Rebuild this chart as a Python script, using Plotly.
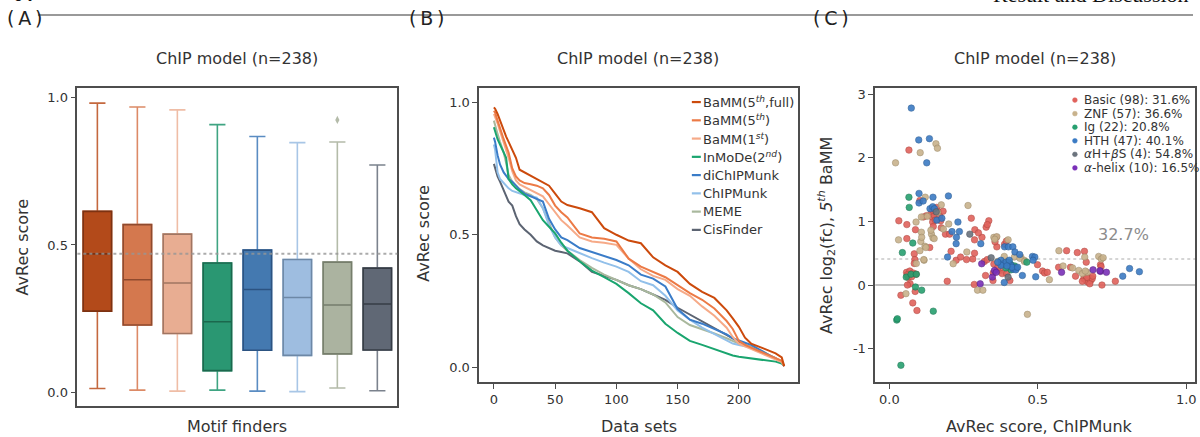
import plotly.graph_objects as go
import math

W, H = 1200, 437

# ---------------- Panel A: box statistics (AvRec score per motif finder) -------------
finders = ["BaMM(5th,full)", "BaMM(5th)", "BaMM(1st)", "InMoDe(2nd)",
           "diChIPMunk", "ChIPMunk", "MEME", "CisFinder"]
finder_labels = ["BaMM(5<sup><i>th</i></sup>,full)", "BaMM(5<sup><i>th</i></sup>)",
                 "BaMM(1<sup><i>st</i></sup>)", "InMoDe(2<sup><i>nd</i></sup>)",
                 "diChIPMunk", "ChIPMunk", "MEME", "CisFinder"]
box_q1 = [0.276, 0.229, 0.200, 0.074, 0.143, 0.126, 0.131, 0.144]
box_median = [0.470, 0.382, 0.371, 0.240, 0.349, 0.322, 0.2965, 0.300]
box_q3 = [0.614, 0.569, 0.537, 0.439, 0.4825, 0.451, 0.442, 0.4216]
box_low = [0.0135, 0.008, 0.0045, 0.008, 0.0045, 0.003, 0.015, 0.006]
box_high = [0.981, 0.968, 0.958, 0.908, 0.868, 0.847, 0.849, 0.771]
outlier_finder = [6]
outlier_value = [0.924]

# ---------------- Panel B: sorted AvRec scores per data set -------------
data_idx = [0, 1, 3, 5, 8, 10, 12, 15, 18, 21, 25, 30, 35, 40, 45, 50, 55, 60, 70, 80,
            90, 100, 110, 120, 130, 140, 150, 160, 170, 180, 190, 195, 200, 205, 210,
            220, 230, 235, 237]
bamm5_full = [0.98, 0.975, 0.955, 0.93, 0.89, 0.87, 0.85, 0.82, 0.79, 0.745, 0.735, 0.725,
              0.71, 0.70, 0.685, 0.655, 0.625, 0.612, 0.60, 0.585, 0.525, 0.50, 0.478,
              0.468, 0.415, 0.385, 0.36, 0.315, 0.285, 0.262, 0.215, 0.185, 0.153, 0.112,
              0.09, 0.072, 0.053, 0.038, 0.005]
bamm5 = [0.967, 0.96, 0.93, 0.90, 0.86, 0.835, 0.81, 0.75, 0.72, 0.705, 0.695, 0.69, 0.685,
         0.675, 0.65, 0.61, 0.585, 0.565, 0.505, 0.49, 0.485, 0.475, 0.41, 0.38, 0.36, 0.34,
         0.31, 0.28, 0.255, 0.222, 0.175, 0.145, 0.10, 0.085, 0.075, 0.055, 0.035, 0.025, 0.005]
bamm1 = [0.955, 0.945, 0.92, 0.89, 0.85, 0.82, 0.79, 0.74, 0.705, 0.69, 0.68, 0.67, 0.655,
         0.645, 0.615, 0.585, 0.555, 0.535, 0.49, 0.475, 0.47, 0.462, 0.41, 0.37, 0.345,
         0.33, 0.295, 0.27, 0.23, 0.195, 0.15, 0.115, 0.09, 0.08, 0.07, 0.05, 0.03, 0.02, 0.005]
inmode = [0.905, 0.89, 0.86, 0.84, 0.81, 0.79, 0.71, 0.69, 0.675, 0.665, 0.65, 0.63, 0.59,
          0.555, 0.53, 0.505, 0.47, 0.44, 0.40, 0.365, 0.34, 0.315, 0.28, 0.242, 0.215,
          0.165, 0.13, 0.10, 0.085, 0.068, 0.052, 0.045, 0.04, 0.037, 0.035, 0.03, 0.022,
          0.015, 0.008]
dichipmunk = [0.866, 0.85, 0.80, 0.765, 0.735, 0.72, 0.71, 0.70, 0.685, 0.67, 0.655, 0.645,
              0.635, 0.625, 0.56, 0.52, 0.49, 0.48, 0.45, 0.435, 0.42, 0.405, 0.385, 0.35,
              0.335, 0.305, 0.22, 0.18, 0.165, 0.145, 0.125, 0.11, 0.10, 0.093, 0.085, 0.06,
              0.035, 0.02, 0.005]
chipmunk = [0.84, 0.82, 0.735, 0.71, 0.695, 0.685, 0.675, 0.665, 0.66, 0.655, 0.65, 0.645,
            0.64, 0.60, 0.535, 0.49, 0.46, 0.45, 0.43, 0.412, 0.395, 0.38, 0.36, 0.325, 0.31,
            0.27, 0.215, 0.18, 0.15, 0.125, 0.10, 0.09, 0.085, 0.08, 0.075, 0.055, 0.035,
            0.02, 0.005]
meme = [0.93, 0.91, 0.88, 0.85, 0.81, 0.77, 0.725, 0.70, 0.685, 0.672, 0.66, 0.65, 0.635,
        0.60, 0.545, 0.49, 0.46, 0.44, 0.405, 0.375, 0.35, 0.33, 0.31, 0.295, 0.275, 0.245,
        0.19, 0.16, 0.145, 0.128, 0.11, 0.10, 0.09, 0.085, 0.078, 0.06, 0.035, 0.02, 0.005]
cisfinder = [0.767, 0.75, 0.72, 0.70, 0.67, 0.645, 0.625, 0.61, 0.57, 0.54, 0.52, 0.50,
             0.475, 0.46, 0.45, 0.44, 0.435, 0.43, 0.40, 0.36, 0.345, 0.33, 0.31, 0.295,
             0.275, 0.255, 0.225, 0.20, 0.175, 0.148, 0.125, 0.11, 0.095, 0.085, 0.075,
             0.055, 0.035, 0.02, 0.005]
curves = [bamm5_full, bamm5, bamm1, inmode, dichipmunk, chipmunk, meme, cisfinder]

# ---------------- Panel C: ChIPMunk AvRec vs log2 fold change of 5th-order BaMM ----
families = ["Basic", "ZNF", "Ig", "HTH", "αH+βS", "α-helix"]
family_labels = ["Basic (98): 31.6%", "ZNF (57): 36.6%", "Ig (22): 20.8%",
                 "HTH (47): 40.1%", "<i>α</i>H+<i>β</i>S (4): 54.8%",
                 "<i>α</i>-helix (10): 16.5%"]
basic_x = [0.066, 0.032, 0.059, 0.059, 0.088, 0.084, 0.086, 0.084, 0.058, 0.069, 0.080, 0.064,
           0.075, 0.070, 0.061, 0.087, 0.039, 0.079, 0.093, 0.103, 0.125, 0.136, 0.142, 0.144,
           0.146, 0.148, 0.152, 0.160, 0.165, 0.170, 0.181, 0.173, 0.155, 0.145, 0.189, 0.203,
           0.195, 0.208, 0.225, 0.276, 0.288, 0.287, 0.281, 0.287, 0.286, 0.326, 0.335, 0.312,
           0.320, 0.330, 0.324, 0.360, 0.362, 0.356, 0.388, 0.349, 0.350, 0.352, 0.372, 0.380,
           0.395, 0.406, 0.394, 0.499, 0.516, 0.523, 0.532, 0.570, 0.597, 0.610, 0.633, 0.657,
           0.627, 0.655, 0.662, 0.668, 0.672, 0.678, 0.683, 0.675, 0.665, 0.685, 0.663, 0.711,
           0.713, 0.716, 0.761, 0.260, 0.240, 0.300, 0.115, 0.175, 0.330, 0.060, 0.090, 0.365,
           0.406, 0.650]
basic_y = [2.12, 1.01, 0.95, 0.73, 0.87, 0.49, 0.40, 0.34, 0.20, 0.22, 0.19, 0.12, 0.13, 0.02,
           0.00, -0.10, -0.16, -0.28, -0.40, 1.33, 1.09, 0.59, 1.14, 1.07, 0.99, 0.92, 1.09,
           1.22, 1.15, 1.08, 1.16, 1.01, 1.02, 1.18, 0.80, 0.80, 0.06, 0.53, 0.39, 1.05, 0.87,
           0.71, 0.41, 0.50, 0.01, 0.91, 1.01, 0.75, 0.37, 0.40, 0.15, 0.75, 0.60, 0.68, 0.64,
           0.07, 0.19, 0.33, 0.23, 0.18, 0.18, 0.07, 0.69, 0.32, 0.22, 0.19, 0.20, 0.28, 0.54,
           0.28, 0.51, 0.53, 0.14, 0.10, 0.08, 0.05, 0.11, 0.07, 0.10, 0.02, 0.12, 0.14, 0.36,
           0.32, 0.29, 0.00, 0.06, 0.40, 0.44, 0.82, 1.07, 0.90, 0.95, 0.16, 0.17, 0.27, 0.30,
           0.06]
znf_x = [0.021, 0.104, 0.157, 0.162, 0.031, 0.090, 0.108, 0.121, 0.106, 0.108, 0.120, 0.103,
         0.117, 0.091, 0.056, 0.142, 0.147, 0.163, 0.175, 0.200, 0.215, 0.265, 0.261, 0.297,
         0.315, 0.352, 0.362, 0.400, 0.387, 0.421, 0.443, 0.454, 0.465, 0.539, 0.571, 0.585,
         0.617, 0.658, 0.638, 0.666, 0.650, 0.705, 0.714, 0.365, 0.116, 0.109, 0.123, 0.151,
         0.128, 0.140, 0.440, 0.395, 0.455, 0.720, 0.660, 0.355, 0.182]
znf_y = [1.92, 2.08, 2.22, 2.15, 0.71, 0.99, 1.07, 1.38, 0.685, 0.83, 0.61, 0.54, 0.39, 0.34,
         -0.135, 0.80, 0.74, 1.14, 1.26, 0.96, 0.335, 1.25, 0.52, -0.08, -0.08, 0.75, 0.76,
         0.71, 0.45, 0.44, 0.44, 0.39, -0.46, 0.085, 0.54, 0.30, 0.27, 0.44, 0.23, 0.20, 0.18,
         0.45, 0.41, 0.37, 0.40, 0.75, 0.59, 0.73, 1.08, 0.86, 0.42, 0.36, 0.37, 0.43, 0.22,
         0.72, 0.88]
ig_x = [0.066, 0.067, 0.044, 0.079, 0.057, 0.073, 0.091, 0.088, 0.109, 0.148, 0.025, 0.027,
        0.039, 0.404, 0.409, 0.412, 0.410, 0.393, 0.422, 0.428, 0.463, 0.400]
ig_y = [1.38, 1.22, 0.51, 0.66, 0.125, 0.17, 0.17, -0.03, -0.08, -0.41, -0.55, -0.53, -1.26,
        0.35, 0.32, 0.30, 0.24, 0.27, 0.30, 0.27, 0.36, 0.36]
hth_x = [0.074, 0.099, 0.135, 0.126, 0.100, 0.147, 0.199, 0.100, 0.114, 0.137, 0.146, 0.160,
         0.177, 0.231, 0.211, 0.236, 0.226, 0.225, 0.196, 0.308, 0.388, 0.401, 0.416, 0.423,
         0.439, 0.376, 0.381, 0.393, 0.410, 0.417, 0.426, 0.376, 0.387, 0.448, 0.482, 0.490,
         0.484, 0.493, 0.786, 0.809, 0.842, 0.404, 0.413, 0.365, 0.396, 0.432, 0.152]
hth_y = [2.78, 2.28, 2.30, 1.92, 1.44, 1.38, 1.40, 1.29, 1.32, 1.20, 1.23, 1.02, 1.05, 0.99,
         0.84, 0.84, 0.75, 0.65, 0.44, 0.65, 0.60, 0.60, 0.60, 0.52, 0.48, 0.39, 0.33, 0.36,
         0.31, 0.25, 0.24, 0.31, 0.04, 0.15, 0.45, 0.44, 0.39, 0.13, 0.14, 0.26, 0.21, 0.39,
         0.28, 0.36, 0.30, 0.28, 1.20]
ahbs_x = [0.158, 0.271, 0.343, 0.400]
ahbs_y = [1.15, 0.80, 0.43, 0.125]
ahelix_x = [0.311, 0.306, 0.354, 0.347, 0.580, 0.686, 0.711, 0.731, 0.709, 0.360]
ahelix_y = [0.335, 0.02, 0.23, 0.125, 0.20, 0.24, 0.215, 0.20, 0.225, 0.20]
family_x = [basic_x, znf_x, ig_x, hth_x, ahbs_x, ahelix_x]
family_y = [basic_y, znf_y, ig_y, hth_y, ahbs_y, ahelix_y]
overall_gain_pct = 32.7

# ---------------- styles -------------
box_fill = ["#b34a1a", "#d4784e", "#e8ad92", "#2a9772", "#4479b0", "#9ebde0", "#abb3a0", "#606875"]
box_edge = ["#7c3212", "#8f4a2e", "#a07562", "#1b684d", "#2c5381", "#6d88a6", "#767e6c", "#363c45"]
box_whisk = ["#c4683e", "#dc8a66", "#efbda6", "#3fa482", "#5a8cc2", "#a8c6e6", "#b4bba9", "#7b828d"]
line_colors = ["#cc4a0c", "#ec7a46", "#f6aa88", "#1aa56f", "#3a7cc8", "#92c0ea", "#a9b89d", "#5c6472"]
fam_colors = ["#e0625c", "#c8b28c", "#27a070", "#3b7bc4", "#6b737d", "#7a30b8"]
fam_edge = ["#b0463f", "#9c8a68", "#1b7552", "#2a5a92", "#4c535c", "#55207f"]
FONT = "DejaVu Sans"
TXT = "#333333"
AX = "#4d4d4d"


def px(x):
    return x / W


def py(y):
    return 1 - y / H


fig = go.Figure()

# Panel A boxes: whisker trace + box body trace
for i in range(len(finders)):
    fig.add_trace(go.Box(
        x=[i], q1=[box_q1[i]], median=[box_median[i]], q3=[box_q3[i]],
        lowerfence=[box_low[i]], upperfence=[box_high[i]],
        width=0.71, whiskerwidth=0.57, fillcolor=box_fill[i],
        line=dict(color=box_whisk[i], width=1.6), boxpoints=False,
        showlegend=False, hoverinfo="skip", xaxis="x", yaxis="y"))
    fig.add_trace(go.Box(
        x=[i], q1=[box_q1[i]], median=[box_median[i]], q3=[box_q3[i]],
        lowerfence=[box_q1[i]], upperfence=[box_q3[i]],
        width=0.71, whiskerwidth=0, fillcolor=box_fill[i],
        line=dict(color=box_edge[i], width=1.6), boxpoints=False,
        showlegend=False, hoverinfo="skip", xaxis="x", yaxis="y"))
fig.add_trace(go.Scatter(
    x=outlier_finder, y=outlier_value, mode="markers",
    marker=dict(symbol="diamond-tall", size=6, color=box_whisk[6],
                line=dict(width=0)),
    showlegend=False, hoverinfo="skip", xaxis="x", yaxis="y"))

# Panel B curves
for i in reversed(range(len(finders))):
    fig.add_trace(go.Scatter(
        x=data_idx, y=curves[i], mode="lines", name=finders[i],
        line=dict(color=line_colors[i], width=2), showlegend=False,
        xaxis="x2", yaxis="y2"))

# Panel C scatter
for i in range(len(families)):
    fig.add_trace(go.Scatter(
        x=family_x[i], y=family_y[i], mode="markers", name=families[i],
        marker=dict(size=6.5, color=fam_colors[i], opacity=0.9,
                    line=dict(color=fam_edge[i], width=0.6)),
        showlegend=False, xaxis="x3", yaxis="y3"))

# axis geometry (pixels)
A = dict(l=77.5, r=398, t=87.7, b=405.7)
B = dict(l=480, r=799, t=87.3, b=381.7)
C = dict(l=876.7, r=1197, t=87.3, b=381.7)

axis_common = dict(showline=True, mirror=True, linecolor=AX, linewidth=1.5,
                   showgrid=False, zeroline=False, ticks="outside", ticklen=5,
                   tickwidth=1.2, tickcolor=AX,
                   tickfont=dict(family=FONT, size=13, color=TXT))

fig.update_layout(
    width=W, height=H, margin=dict(l=0, r=0, t=0, b=0),
    paper_bgcolor="white", plot_bgcolor="white", boxmode="overlay",
    font=dict(family=FONT, color=TXT),
    xaxis=dict(axis_common, domain=[px(A["l"]), px(A["r"])], range=[-0.5, 7.5],
               ticks="", showticklabels=False, anchor="y"),
    yaxis=dict(axis_common, domain=[py(A["b"]), py(A["t"])], range=[-0.045, 1.0305],
               tickvals=[0, 0.5, 1.0], ticktext=["0.0", "0.5", "1.0"], anchor="x"),
    xaxis2=dict(axis_common, domain=[px(B["l"]), px(B["r"])], range=[-12, 248],
                tickvals=[0, 50, 100, 150, 200], anchor="y2"),
    yaxis2=dict(axis_common, domain=[py(B["b"]), py(B["t"])], range=[-0.0541, 1.0526],
                tickvals=[0, 0.5, 1.0], ticktext=["0.0", "0.5", "1.0"], anchor="x2"),
    xaxis3=dict(axis_common, domain=[px(C["l"]), px(C["r"])], range=[-0.0474, 1.0293],
                tickvals=[0, 0.5, 1.0], ticktext=["0.0", "0.5", "1.0"], anchor="y3"),
    yaxis3=dict(axis_common, domain=[py(C["b"]), py(C["t"])], range=[-1.52, 3.094],
                tickvals=[-1, 0, 1, 2, 3], ticktext=["-1", "0", "1", "2", "3"], anchor="x3"),
)

shapes = []
# reference median line in A
shapes.append(dict(type="line", xref="x domain", yref="y", x0=0, x1=1,
                   y0=box_median[0], y1=box_median[0], layer="above",
                   line=dict(color="rgba(150,150,150,0.8)", width=2, dash="dot")))
# zero line and mean-gain line in C
shapes.append(dict(type="line", xref="x3 domain", yref="y3", x0=0, x1=1, y0=0, y1=0,
                   layer="below", line=dict(color="#c4c4c4", width=2)))
gain_log2 = math.log2(1 + overall_gain_pct / 100)
shapes.append(dict(type="line", xref="x3 domain", yref="y3", x0=0, x1=1,
                   y0=gain_log2, y1=gain_log2, layer="below",
                   line=dict(color="#c8c8c8", width=1.5, dash="dot")))
# header rule
shapes.append(dict(type="line", xref="paper", yref="paper", x0=px(38), x1=px(1195),
                   y0=py(14), y1=py(14), line=dict(color="#777777", width=1.5)))

annotations = []


def ann(text, x, y, size, **kw):
    d = dict(text=text, x=px(x), y=py(y), xref="paper", yref="paper", showarrow=False,
             font=dict(family=kw.pop("family", FONT), size=size, color=kw.pop("color", TXT)),
             xanchor=kw.pop("xanchor", "center"), yanchor=kw.pop("yanchor", "middle"))
    d.update(kw)
    annotations.append(d)


# header texts (cut off by the top edge, as in the source page)
ann("<b>64</b>", 11, 6, 20, family="Liberation Serif", color="#111",
    xanchor="left", yanchor="bottom")
ann("Result and Discussion", 1193, 8, 22, family="Liberation Serif", color="#111",
    xanchor="right", yanchor="bottom")
for lab, cx in [("A", 24.5), ("B", 427), ("C", 832)]:
    ann("(\u2009" + lab + "\u2009)", cx, 17.5, 19, color="#222")

# titles
for P in (A, B, C):
    ann("ChIP model (n=238)", (P["l"] + P["r"]) / 2, 58, 16)

# axis titles
ann("AvRec score", 22, 246, 16, textangle=-90)
ann("Motif finders", 237.7, 426.5, 16)
ann("AvRec score", 424, 233, 16, textangle=-90)
ann("Data sets", 640, 426.5, 16)
ann("AvRec log<sub>2</sub>(fc), <i>5</i><sup><i>th</i></sup> BaMM", 828, 235, 16,
    textangle=-90)
ann("AvRec score, ChIPMunk", 1041, 426.5, 16)

# 32.7% label
annotations.append(dict(text=f"{overall_gain_pct}%", x=0.787, y=0.79, xref="x3", yref="y3",
                        showarrow=False, font=dict(family=FONT, size=16, color="#8c8c8c")))

# legend B
legB_y = [101.3, 119.6, 137.9, 156.2, 174.5, 192.8, 211.1, 229.4]
for i, lab in enumerate(finder_labels):
    yy = legB_y[i]
    shapes.append(dict(type="line", xref="paper", yref="paper", x0=px(693), x1=px(702),
                       y0=py(yy), y1=py(yy), line=dict(color=line_colors[i], width=2.2)))
    ann(lab, 702.5, yy, 13, xanchor="left")

# legend C
legC_y = [99.3, 112.9, 126.5, 140.1, 153.7, 167.3]
for i, lab in enumerate(family_labels):
    yy = legC_y[i]
    r = 2.4
    shapes.append(dict(type="circle", xref="paper", yref="paper",
                       x0=px(1076.7 - r), x1=px(1076.7 + r), y0=py(yy + r), y1=py(yy - r),
                       fillcolor=fam_colors[i], line=dict(color=fam_colors[i], width=0.5)))
    ann(lab, 1083.5, yy, 12.0, xanchor="left")

fig.update_layout(shapes=shapes, annotations=annotations)
fig.write_html("out.html", config={"displayModeBar": False},
               post_script="document.body.style.margin='0';document.body.style.overflow='hidden';")
